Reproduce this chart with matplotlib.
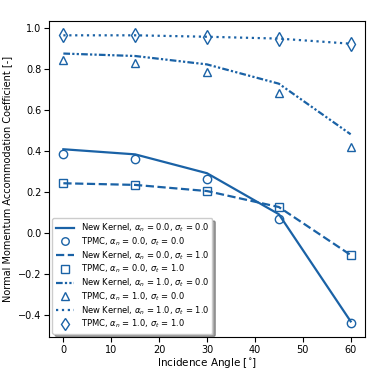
import matplotlib
matplotlib.use("Agg")
import matplotlib.pyplot as plt

angles = [0, 15, 30, 45, 60]

# new kernel curves
nk_00 = [0.410, 0.385, 0.293, 0.093, -0.430]
nk_01 = [0.244, 0.236, 0.206, 0.128, -0.106]
nk_10 = [0.877, 0.865, 0.824, 0.730, 0.483]
nk_11 = [0.966, 0.966, 0.959, 0.950, 0.925]

# TPMC points
tp_00 = [0.389, 0.361, 0.267, 0.068, -0.436]
tp_01 = [0.244, 0.236, 0.205, 0.128, -0.106]
tp_10 = [0.845, 0.833, 0.787, 0.684, 0.423]
tp_11 = [0.966, 0.966, 0.959, 0.950, 0.925]

c = '#1a62a6'
plt.rcParams['font.size'] = 7

fig = plt.figure(figsize=(3.74, 3.74), dpi=100)
ax = fig.add_axes([0.131, 0.099, 0.845, 0.845])

lab = r'$\alpha_n$ = %s, $\sigma_t$ = %s'
ax.plot(angles, nk_00, '-', color=c, lw=1.6, label='New Kernel, ' + lab % ('0.0', '0.0'))
ax.plot(angles, tp_00, 'o', color=c, mfc='none', ms=6, label='TPMC, ' + lab % ('0.0', '0.0'))
ax.plot(angles, nk_01, '--', color=c, lw=1.6, label='New Kernel, ' + lab % ('0.0', '1.0'))
ax.plot(angles, tp_01, 's', color=c, mfc='none', ms=6, label='TPMC, ' + lab % ('0.0', '1.0'))
ax.plot(angles, nk_10, color=c, lw=1.6, linestyle=(0, (3, 1, 1, 1, 1, 1)),
        label='New Kernel, ' + lab % ('1.0', '0.0'))
ax.plot(angles, tp_10, '^', color=c, mfc='none', ms=6, label='TPMC, ' + lab % ('1.0', '0.0'))
ax.plot(angles, nk_11, ':', color=c, lw=1.6, label='New Kernel, ' + lab % ('1.0', '1.0'))
ax.plot(angles, tp_11, 'd', color=c, mfc='none', ms=7, label='TPMC, ' + lab % ('1.0', '1.0'))

ax.tick_params(pad=2)
ax.set_xlabel('Incidence Angle [$^{\\circ}$]', fontsize=7.5, labelpad=1)
ax.set_ylabel('Normal Momentum Accommodation Coefficient [-]', fontsize=7)
ax.legend(loc='lower left', fontsize=6, shadow=True, handlelength=2.2,
          labelspacing=0.15, borderaxespad=0.4, markerscale=0.9)

fig.savefig('out.png', dpi=100)
